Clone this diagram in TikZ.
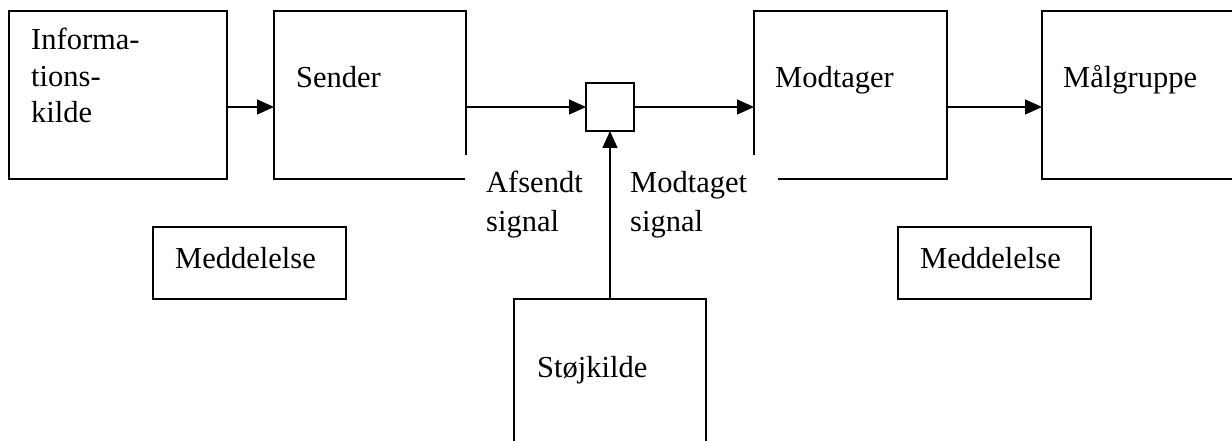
\documentclass[tikz,border=0pt]{standalone}
\usepackage{fontspec}
\setmainfont{Liberation Serif}
\usetikzlibrary{arrows.meta}
\begin{document}
\begin{tikzpicture}[x=1pt,y=-1pt,
  box/.style={draw, line width=1.4pt, inner sep=0pt, outer sep=0pt, anchor=north west, fill=white},
  mask/.style={fill=white, draw=none, inner sep=0pt, outer sep=0pt, anchor=north west},
  lbl/.style={font=\fontsize{30.5}{36}\selectfont, inner sep=0pt, anchor=base west},
  arr/.style={line width=1.4pt, -{Triangle[length=17pt,width=15pt]}}]
\useasboundingbox (0,0) rectangle (1232,441);
\clip (0,0) rectangle (1232,441);
\fill[white] (0,0) rectangle (1232,441);
% boxes
\node[box, minimum width=218, minimum height=168] (src) at (9,11) {};
\node[box, minimum width=192, minimum height=168] (snd) at (274,11) {};
\node[box, minimum width=193, minimum height=168] (rcv) at (754,11) {};
\node[box, minimum width=230, minimum height=168] (tgt) at (1042,11) {};
\node[box, minimum width=48, minimum height=48] (mix) at (586,83) {};
\node[box, minimum width=192, minimum height=180] (noise) at (514,299) {};
\node[box, minimum width=193, minimum height=72] (msg1) at (153,227) {};
\node[box, minimum width=193, minimum height=72] (msg2) at (898,227) {};
% white label backgrounds
\node[mask, minimum width=128, minimum height=60] (afsbg) at (465.2,155) {};
\node[mask, minimum width=140.5, minimum height=60] (modbg) at (637,155) {};
% texts
\node[lbl] (t1a) at (31,50) {Informa-};
\node[lbl] (t1b) at (31,87) {tions-};
\node[lbl] (t1c) at (31,123) {kilde};
\node[lbl] (t2) at (296,88) {Sender};
\node[lbl] (t3) at (775,88) {Modtager};
\node[lbl] (t4) at (1063,88) {Målgruppe};
\node[lbl] (t5a) at (486,193) {Afsendt};
\node[lbl] (t5b) at (486,231) {signal};
\node[lbl] (t6a) at (630,193) {Modtaget};
\node[lbl] (t6b) at (630,231) {signal};
\node[lbl] (t7) at (175,268) {Meddelelse};
\node[lbl] (t8) at (920,268) {Meddelelse};
\node[lbl] (t9) at (537,377) {Støjkilde};
% connectors
\draw[arr] (src.east |- mix) -- (snd.west |- mix);
\draw[arr] (snd.east |- mix) -- (mix.west);
\draw[arr] (mix.east) -- (rcv.west |- mix);
\draw[arr] (rcv.east |- mix) -- (tgt.west |- mix);
\draw[arr] (noise.north -| mix) -- (mix.south);
\end{tikzpicture}
\end{document}
